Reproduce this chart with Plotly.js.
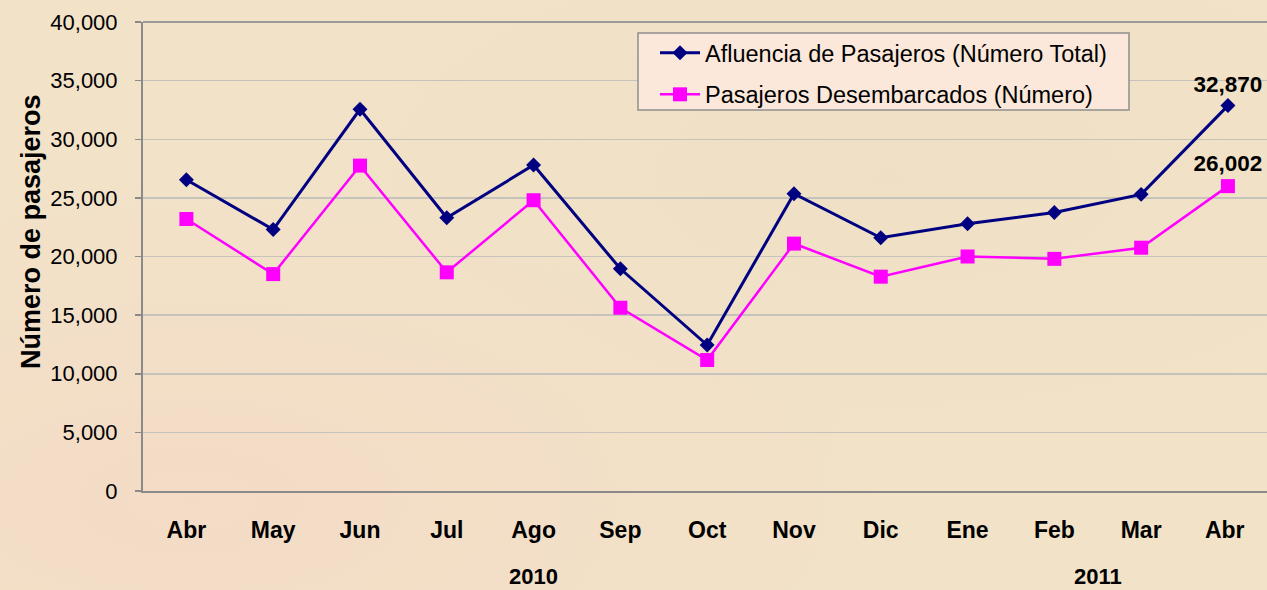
<!DOCTYPE html>
<html>
<head>
<meta charset="utf-8">
<script src="https://cdn.plot.ly/plotly-3.0.1.min.js"></script>
<style>
  html, body { margin: 0; padding: 0; }
  body {
    width: 1267px; height: 590px; overflow: hidden;
    background:
      radial-gradient(ellipse at 15% 85%, rgba(245,214,196,0.55), rgba(245,214,196,0) 45%),
      radial-gradient(ellipse at 70% 30%, rgba(236,222,196,0.6), rgba(236,222,196,0) 50%),
      #f2e2c8;
  }
  #chart { width: 1267px; height: 590px; }
</style>
</head>
<body>
<div id="chart"></div>
<script>
// ---- data ----
const months = ["Abr","May","Jun","Jul","Ago","Sep","Oct","Nov","Dic","Ene","Feb","Mar","Abr "];
const afluencia = [26550, 22300, 32550, 23300, 27800, 18950, 12450, 25350, 21600, 22800, 23750, 25300, 32870];
const desembarcados = [23200, 18500, 27750, 18650, 24800, 15630, 11170, 21100, 18280, 20000, 19800, 20750, 26002];
const seriesNames = ["Afluencia de Pasajeros (Número Total)", "Pasajeros Desembarcados (Número)"];
const yearLabels = ["2010", "2011"];
const yTickVals = [0, 5000, 10000, 15000, 20000, 25000, 30000, 35000, 40000];

const xIdx = months.map((m, i) => i);
const fmt = v => v.toLocaleString("en-US");
const lastOnly = arr => arr.map((v, i) => i === arr.length - 1 ? fmt(v) : "");

const FONT = "Liberation Sans, Arial, sans-serif";

const traces = [
  {
    x: xIdx, y: afluencia, name: seriesNames[0], type: "scatter", mode: "lines+markers+text",
    legendgroup: "a",
    line: { color: "#000080", width: 3 },
    marker: { symbol: "diamond", size: 11.5, color: "#000080" },
    text: lastOnly(afluencia), textposition: "top center",
    textfont: { family: FONT, size: 22.5, color: "#000000", weight: "bold" },
    cliponaxis: false, hoverinfo: "y"
  },
  {
    x: xIdx, y: desembarcados, name: seriesNames[1], type: "scatter", mode: "lines+markers+text",
    legendgroup: "b",
    line: { color: "#FF00FF", width: 2.5 },
    marker: { symbol: "square", size: 14, color: "#FF00FF" },
    text: lastOnly(desembarcados), textposition: "top center",
    textfont: { family: FONT, size: 22.5, color: "#000000", weight: "bold" },
    cliponaxis: false, hoverinfo: "y"
  }
];

const W = 1267, H = 590, L = 143, T = 22, B = 99;
const pw = W - L, ph = H - T - B;
const px = x => (x - L) / pw;
const py = y => (H - B - y) / ph;

const layout = {
  width: W, height: H,
  margin: { l: L, r: 0, t: T, b: B, pad: 0 },
  paper_bgcolor: "rgba(0,0,0,0)",
  plot_bgcolor: "rgba(0,0,0,0)",
  font: { family: FONT, color: "#000000" },
  showlegend: true,
  legend: {
    x: px(655), y: py(31), xanchor: "left", yanchor: "top",
    bgcolor: "rgba(0,0,0,0)", borderwidth: 0,
    font: { family: FONT, size: 23.5, color: "#000000" },
    tracegroupgap: 8, itemwidth: 40
  },
  xaxis: {
    tickmode: "array", tickvals: xIdx, ticktext: months,
    range: [-0.5, 12.45],
    showgrid: false, zeroline: false,
    showline: true, linecolor: "#8a8a8a", linewidth: 2,
    ticks: "", ticklabelstandoff: 17,
    tickfont: { family: FONT, size: 23, color: "#000000", weight: "bold" },
    fixedrange: true
  },
  yaxis: {
    range: [0, 40000],
    tickmode: "array", tickvals: yTickVals, ticktext: yTickVals.map(fmt),
    showgrid: true, gridcolor: "#c6c3bd", gridwidth: 1.5,
    zeroline: false,
    showline: true, linecolor: "#8a8a8a", linewidth: 2,
    ticks: "outside", ticklen: 6, tickcolor: "#8a8a8a", tickwidth: 1.5,
    ticklabelstandoff: 13,
    tickfont: { family: FONT, size: 22, color: "#000000" },
    fixedrange: true
  },
  shapes: [
    { type: "line", xref: "paper", yref: "paper", x0: 0, x1: 1, y0: 1, y1: 1,
      line: { color: "#9a9a9a", width: 2 }, layer: "above" },
    { type: "rect", xref: "paper", yref: "paper",
      x0: px(638), x1: px(1129), y0: py(33), y1: py(110),
      fillcolor: "#fbe8da", line: { color: "#8f8f8f", width: 1.5 }, layer: "above" }
  ],
  annotations: [
    { text: "Número de pasajeros", xref: "paper", yref: "paper",
      x: px(31), y: py(232), textangle: -90, showarrow: false,
      xanchor: "center", yanchor: "middle",
      font: { family: FONT, size: 27, color: "#000000", weight: "bold" } },
    { text: yearLabels[0], xref: "x", yref: "paper", x: 4, y: py(576),
      showarrow: false, xanchor: "center", yanchor: "middle",
      font: { family: FONT, size: 22, color: "#000000", weight: "bold" } },
    { text: yearLabels[1], xref: "x", yref: "paper", x: 10.5, y: py(576),
      showarrow: false, xanchor: "center", yanchor: "middle",
      font: { family: FONT, size: 22, color: "#000000", weight: "bold" } }
  ]
};

Plotly.newPlot("chart", traces, layout, { displayModeBar: false, staticPlot: true });
</script>
</body>
</html>
